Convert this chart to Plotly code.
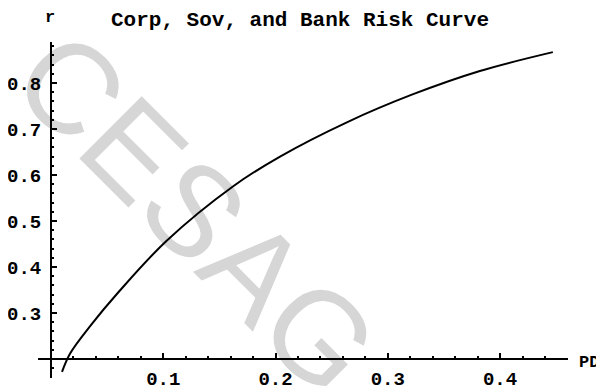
import plotly.graph_objects as go

# Data
pd_values = [0.0098, 0.017, 0.035, 0.060, 0.103, 0.162, 0.204, 0.264, 0.322, 0.382, 0.447]
r_values = [0.172, 0.212, 0.272, 0.345, 0.457, 0.575, 0.640, 0.715, 0.775, 0.826, 0.867]

x_tick_vals = [0.1, 0.2, 0.3, 0.4]
x_tick_text = ["0.1", "0.2", "0.3", "0.4"]
y_tick_vals = [0.3, 0.4, 0.5, 0.6, 0.7, 0.8]
y_tick_text = ["0.3", "0.4", "0.5", "0.6", "0.7", "0.8"]

title_text = "Corp, Sov, and Bank Risk Curve"
x_label = "PD"
y_label = "r"
watermark = "CESAG"

# The page body adds an 8px margin, so the figure is drawn 8px smaller
OFF = 8
W, H = 604 - OFF, 390 - OFF
# plot area in page pixels: x 38..568, y 42..378
ML, MR, MT, MB = 38 - OFF, 604 - 568, 42 - OFF, 390 - 378
PW, PH = W - ML - MR, H - MT - MB
x_range = [-0.0116, 0.4605]
y_range = [0.1586, 0.889]
x_cross = 0.0
y_cross = 0.2

mono = "Liberation Mono"
tick_font = dict(family=mono, size=19, color="black", weight="bold")

fig = go.Figure()
fig.add_trace(go.Scatter(
    x=pd_values, y=r_values, mode="lines",
    line=dict(color="black", width=2, shape="spline", smoothing=1.0),
    showlegend=False, hoverinfo="skip",
))

xpos = (y_cross - y_range[0]) / (y_range[1] - y_range[0])
ypos = (x_cross - x_range[0]) / (x_range[1] - x_range[0])

def px_x(px):  # page px -> paper x
    return (px - OFF - ML) / PW

def px_y(py):  # page px -> paper y
    return (H - MB - (py - OFF)) / PH

fig.update_layout(
    width=W, height=H,
    margin=dict(l=ML, r=MR, t=MT, b=MB, autoexpand=False),
    paper_bgcolor="white", plot_bgcolor="white",
    title=dict(text=title_text, x=(300 - OFF) / W, xanchor="center", y=1 - (19 - OFF) / H, yanchor="middle",
               automargin=False,
               font=dict(family=mono, size=21, color="black", weight="bold")),
    xaxis=dict(range=x_range, anchor="free", position=xpos, automargin=False,
               showgrid=False, zeroline=False, showline=True, linecolor="black", linewidth=2,
               tickmode="array", tickvals=x_tick_vals, ticktext=x_tick_text,
               ticks="inside", ticklen=5, tickwidth=1.5, tickcolor="black", ticklabelstandoff=2,
               minor=dict(tickmode="linear", tick0=0, dtick=0.02, ticks="inside", ticklen=2, tickcolor="black", showgrid=False),
               tickfont=tick_font),
    yaxis=dict(range=y_range, anchor="free", position=ypos, automargin=False,
               showgrid=False, zeroline=False, showline=True, linecolor="black", linewidth=2,
               tickmode="array", tickvals=y_tick_vals, ticktext=y_tick_text,
               ticks="inside", ticklen=5, tickwidth=1.5, tickcolor="black", ticklabelstandoff=5,
               minor=dict(tickmode="linear", tick0=0, dtick=0.02, ticks="inside", ticklen=2, tickcolor="black", showgrid=False),
               tickfont=tick_font),
    annotations=[
        dict(text=y_label, xref="paper", yref="paper", x=px_x(50), y=px_y(17),
             xanchor="center", yanchor="middle", showarrow=False,
             font=dict(family=mono, size=17, color="black", weight="bold")),
        dict(text=x_label, xref="paper", yref="paper", x=px_x(577), y=px_y(362),
             xanchor="left", yanchor="middle", showarrow=False,
             font=dict(family=mono, size=17, color="black", weight="bold")),
    ],
    shapes=[
        dict(type="rect", xref="paper", yref="paper", layer="below",
             x0=px_x(198), x1=px_x(212), y0=px_y(211), y1=px_y(197), line=dict(width=0), fillcolor="rgba(0,0,0,0)",
             label=dict(text=watermark, textangle=45, textposition="middle center",
                        font=dict(family="Liberation Sans", size=128, color="#d6d6d6"))),
    ],
)

fig.write_html("out.html")
